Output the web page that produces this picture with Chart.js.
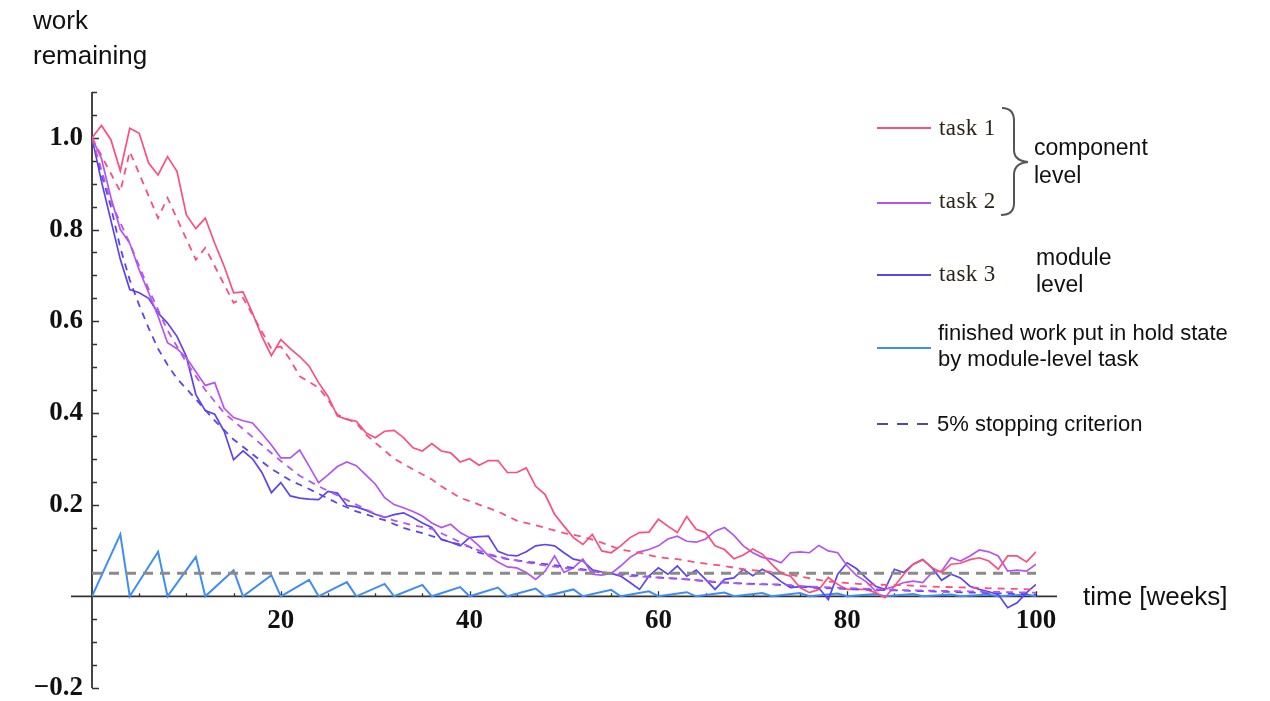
<!DOCTYPE html>
<html>
<head>
<meta charset="utf-8">
<script src="https://cdn.jsdelivr.net/npm/chart.js@4.4.1/dist/chart.umd.min.js"></script>
<style>
  html, body { margin: 0; padding: 0; background: #fff; overflow: hidden; }
  #wrap { position: relative; width: 1270px; height: 701px; }
  .lbl { position: absolute; font-family: "Liberation Sans", Arial, sans-serif; color: #111; white-space: nowrap; line-height: 1; transform: translateY(-50%); }
  .ax { font-size: 26px; }
  .txt { font-size: 22px; }
  .grp { font-size: 23px; }
  .ser { font-family: "Liberation Serif", "Times New Roman", serif; font-size: 23px; color: #2b2218; letter-spacing: 0.4px; }
  .key { position: absolute; left: 877px; width: 54px; height: 0; border-top: 2px solid; }
</style>
</head>
<body>
<div id="wrap">
  <canvas id="chart"></canvas>

  <div class="lbl ax" style="left:33px; top:20px;">work</div>
  <div class="lbl ax" style="left:33px; top:55px;">remaining</div>
  <div class="lbl ax" style="left:1083px; top:596px;">time [weeks]</div>

  <div class="key" style="top:127px; border-color:#fb4f7c;"></div>
  <div class="lbl ser" style="left:939px; top:127px;">task 1</div>
  <div class="key" style="top:202px; border-color:#b455f2;"></div>
  <div class="lbl ser" style="left:939px; top:200px;">task 2</div>
  <div class="key" style="top:274px; border-color:#5b45ee;"></div>
  <div class="lbl ser" style="left:939px; top:273px;">task 3</div>
  <div class="key" style="top:347px; border-color:#3d8df5;"></div>
  <div class="lbl txt" style="left:938px; top:333px;">finished work put in hold state</div>
  <div class="lbl txt" style="left:938px; top:359px;">by module-level task</div>
  <div class="key" style="top:423px; border-top:none; height:2px; background:repeating-linear-gradient(90deg,#4b4ba8 0 11px,transparent 11px 20px);"></div>
  <div class="lbl txt" style="left:937px; top:424px;">5% stopping criterion</div>

  <svg style="position:absolute; left:0; top:0;" width="1270" height="701">
    <path d="M1002 108 Q1014 108 1014 121 L1014 150 Q1014 161 1028 162 Q1014 163 1014 175 L1014 203 Q1014 215 1001 215" fill="none" stroke="#555" stroke-width="2"/>
  </svg>
  <div class="lbl grp" style="left:1034px; top:147px;">component</div>
  <div class="lbl grp" style="left:1034px; top:175px;">level</div>
  <div class="lbl grp" style="left:1036px; top:257px;">module</div>
  <div class="lbl grp" style="left:1036px; top:284px;">level</div>
</div>
<script>
// task 1 (component level), simulated and expected
const task1Weeks = [0,1,2,3,4,5,6,7,8,9,10,11,12,13,14,15,16,17,18,19,20,21,22,23,24,25,26,27,28,29,30,31,32,33,34,35,36,37,38,39,40,41,42,43,44,45,46,47,48,49,50,51,52,53,54,55,56,57,58,59,60,61,62,63,64,65,66,67,68,69,70,71,72,73,74,75,76,77,78,79,80,81,82,83,84,85,86,87,88,89,90,91,92,93,94,95,96,97,98,99,100];
const task1Values = [1.0,1.027,0.996,0.928,1.021,1.01,0.945,0.919,0.959,0.927,0.832,0.802,0.825,0.77,0.72,0.662,0.664,0.618,0.567,0.525,0.56,0.54,0.523,0.502,0.466,0.436,0.393,0.386,0.382,0.357,0.346,0.36,0.362,0.346,0.324,0.317,0.333,0.317,0.313,0.293,0.3,0.286,0.296,0.296,0.27,0.27,0.28,0.24,0.222,0.179,0.153,0.128,0.113,0.135,0.099,0.095,0.11,0.128,0.139,0.14,0.168,0.153,0.139,0.174,0.146,0.139,0.11,0.102,0.082,0.09,0.103,0.092,0.07,0.05,0.044,0.019,0.008,0.015,0.041,0.026,0.015,0.015,0.015,0.008,-0.003,0.022,0.048,0.07,0.08,0.062,0.052,0.07,0.072,0.08,0.084,0.077,0.059,0.088,0.088,0.075,0.097];
const task1ExpWeeks = [0,3,4,7,8,11,12,15,16,19,20,21,22,24,25,26,28,29,30,31,32,34,36,37,39,41,43,45,47,50,52,54,56,58,60,62,64,67,69,71,73,75,78,82,86,89,93,96,100];
const task1ExpValues = [1.0,0.883,0.97,0.825,0.869,0.734,0.76,0.64,0.651,0.54,0.545,0.516,0.48,0.455,0.429,0.396,0.378,0.353,0.335,0.318,0.3,0.277,0.255,0.24,0.215,0.2,0.185,0.165,0.155,0.138,0.13,0.117,0.102,0.095,0.085,0.081,0.074,0.066,0.059,0.055,0.052,0.043,0.032,0.026,0.024,0.021,0.019,0.017,0.015];

// task 2 (component level)
const task2Weeks = task1Weeks;
const task2Values = [1.0,0.955,0.87,0.8,0.77,0.712,0.662,0.611,0.553,0.54,0.52,0.49,0.46,0.466,0.41,0.39,0.383,0.378,0.355,0.33,0.302,0.302,0.319,0.284,0.248,0.265,0.283,0.293,0.285,0.265,0.245,0.215,0.2,0.193,0.185,0.175,0.16,0.15,0.157,0.139,0.128,0.11,0.088,0.075,0.064,0.062,0.052,0.037,0.055,0.088,0.052,0.062,0.081,0.048,0.046,0.05,0.066,0.085,0.097,0.102,0.11,0.125,0.131,0.12,0.118,0.125,0.142,0.15,0.133,0.11,0.095,0.085,0.081,0.073,0.095,0.097,0.095,0.111,0.099,0.095,0.066,0.045,0.032,0.012,0.015,0.022,0.03,0.033,0.03,0.052,0.055,0.084,0.077,0.088,0.101,0.097,0.088,0.055,0.057,0.055,0.07];
const task2ExpWeeks = [0,2,4,6,8,10,12,14,16,18,20,22,24,26,28,30,32,34,36,38,40,42,44,47,50,54,57,60,63,67,70,73,76,80,85,90,95,100];
const task2ExpValues = [1.0,0.86,0.77,0.67,0.58,0.51,0.45,0.4,0.365,0.33,0.295,0.263,0.24,0.22,0.2,0.18,0.165,0.155,0.147,0.128,0.108,0.092,0.082,0.07,0.062,0.052,0.044,0.041,0.037,0.03,0.026,0.026,0.021,0.018,0.014,0.012,0.01,0.008];

// task 3 (module level)
const task3Weeks = task1Weeks;
const task3Values = [1.0,0.905,0.82,0.735,0.669,0.662,0.65,0.618,0.596,0.567,0.523,0.44,0.405,0.397,0.36,0.298,0.317,0.3,0.27,0.226,0.248,0.219,0.214,0.212,0.211,0.229,0.225,0.198,0.195,0.188,0.179,0.172,0.178,0.182,0.172,0.16,0.15,0.124,0.118,0.11,0.128,0.13,0.131,0.098,0.09,0.088,0.097,0.11,0.113,0.11,0.095,0.081,0.077,0.058,0.053,0.05,0.044,0.03,0.015,0.044,0.062,0.048,0.066,0.044,0.057,0.037,0.015,0.037,0.04,0.059,0.045,0.059,0.048,0.032,0.019,0.021,0.021,0.018,-0.007,0.048,0.073,0.06,0.04,0.022,0.015,0.059,0.052,0.07,0.08,0.062,0.035,0.048,0.04,0.022,0.015,0.01,0.004,-0.025,-0.014,0.008,0.026];
const task3ExpWeeks = [0,1,2,3,4,5,6,7,8,9,11,13,15,17,19,21,23,26,28,31,33,35,38,40,41,44,47,51,54,57,60,63,66,69,73,76,80,85,90,95,100];
const task3ExpValues = [1.0,0.92,0.85,0.76,0.69,0.635,0.585,0.54,0.505,0.475,0.43,0.383,0.342,0.31,0.278,0.253,0.234,0.203,0.185,0.166,0.149,0.138,0.118,0.108,0.095,0.081,0.073,0.062,0.052,0.047,0.041,0.037,0.031,0.028,0.025,0.019,0.016,0.013,0.01,0.007,0.004];

// finished work put in hold state by module-level task
const holdWeeks = [0,3,4,7,8,11,12,15,16,19,20,23,24,27,28,31,32,35,36,39,40,43,44,47,48,51,52,55,56,59,60,63,64,67,68,71,72,75,76,79,80,83,84,87,88,91,92,95,96,99,100];
const holdValues = [0,0.135,0,0.097,0,0.086,0,0.057,0,0.046,0,0.036,0,0.031,0,0.027,0,0.025,0,0.02,0,0.019,0,0.017,0,0.015,0,0.014,0,0.011,0,0.009,0,0.008,0,0.007,0,0.007,0,0.006,0,0.005,0,0.005,0,0.004,0,0.004,0,0.004,0];

// 5% stopping criterion
const stopWeeks = [0, 100];
const stopValues = [0.05, 0.05];

const xTickValues = [20, 40, 60, 80, 100];
const yTickValues = [-0.2, 0.2, 0.4, 0.6, 0.8, 1.0];

const COLOR_T1 = '#fb4f7c';
const COLOR_T2 = '#b455f2';
const COLOR_T3 = '#5b45ee';
const COLOR_HOLD = '#3d8df5';
const COLOR_STOP = '#8a8a8a';
const COLOR_AXIS = '#333';

function points(xs, ys) {
    return xs.map((x, i) => ({ x, y: ys[i] }));
}

function solid(data, color, width) {
    return { data, borderColor: color, borderWidth: width || 1.7, pointRadius: 0, fill: false, tension: 0 };
}

function dashed(data, color) {
    return { data, borderColor: color, borderWidth: 1.8, borderDash: [7, 6], pointRadius: 0, fill: false, tension: 0 };
}

// axis lines through the origin, with ticks pointing inward
const axesPlugin = {
    id: 'axes',
    beforeDatasetsDraw(chart) {
        const { ctx, chartArea, scales: { x, y } } = chart;
        const x0 = x.getPixelForValue(0);
        const y0 = y.getPixelForValue(0);
        ctx.save();
        ctx.strokeStyle = COLOR_AXIS;
        ctx.lineWidth = 1.8;
        ctx.beginPath();
        ctx.moveTo(x0, chartArea.top);
        ctx.lineTo(x0, chartArea.bottom);
        ctx.moveTo(chartArea.left - 21, y0);
        ctx.lineTo(chartArea.right + 21, y0);
        ctx.stroke();

        ctx.lineWidth = 1.3;
        ctx.beginPath();
        for (let v = 5; v <= 100; v += 5) {
            const px = Math.round(x.getPixelForValue(v)) + 0.5;
            const len = v % 20 === 0 ? 5 : 3;
            ctx.moveTo(px, y0);
            ctx.lineTo(px, y0 - len);
        }
        for (let i = -4; i <= 22; i++) {
            if (i === 0) continue;
            const py = Math.round(y.getPixelForValue(i * 0.05)) + 0.5;
            const len = i % 4 === 0 ? 7 : 5;
            ctx.moveTo(x0, py);
            ctx.lineTo(x0 + len, py);
        }
        ctx.stroke();
        ctx.restore();
    }
};

const tickFamily = '"Liberation Serif", "Times New Roman", serif';

new Chart(document.getElementById('chart'), {
    type: 'line',
    data: {
        datasets: [
            { ...dashed(points(stopWeeks, stopValues), COLOR_STOP), borderWidth: 3, borderDash: [10, 7] },
            dashed(points(task1ExpWeeks, task1ExpValues), COLOR_T1),
            dashed(points(task2ExpWeeks, task2ExpValues), COLOR_T2),
            dashed(points(task3ExpWeeks, task3ExpValues), COLOR_T3),
            solid(points(task1Weeks, task1Values), COLOR_T1),
            solid(points(task2Weeks, task2Values), COLOR_T2),
            solid(points(task3Weeks, task3Values), COLOR_T3),
            solid(points(holdWeeks, holdValues), COLOR_HOLD, 2),
        ]
    },
    options: {
        responsive: true,
        maintainAspectRatio: false,
        animation: false,
        events: [],
        layout: { padding: { left: 0, top: 92, right: 234, bottom: 0 } },
        plugins: {
            legend: { display: false },
            tooltip: { enabled: false },
        },
        scales: {
            x: {
                type: 'linear',
                min: 0,
                max: 100,
                position: { y: 0 },
                afterFit: s => { s.height = 0; },
                afterBuildTicks: s => { s.ticks = xTickValues.map(v => ({ value: v })); },
                grid: { display: false },
                border: { display: false },
                ticks: { font: { family: tickFamily, weight: 'bold', size: 27 }, color: '#111', padding: 1, autoSkip: false, maxRotation: 0 },
            },
            y: {
                type: 'linear',
                min: -0.2,
                max: 1.1,
                afterFit: s => { s.width = 92; },
                afterBuildTicks: s => { s.ticks = yTickValues.map(v => ({ value: v })); },
                grid: { display: false },
                border: { display: false },
                ticks: {
                    font: { family: tickFamily, weight: 'bold', size: 27, lineHeight: 0.89 },
                    color: '#111',
                    padding: 1,
                    autoSkip: false,
                    callback: v => v < 0 ? '\u2212' + Math.abs(v).toFixed(1) : v.toFixed(1),
                },
            }
        }
    },
    plugins: [axesPlugin]
});
</script>
</body>
</html>
